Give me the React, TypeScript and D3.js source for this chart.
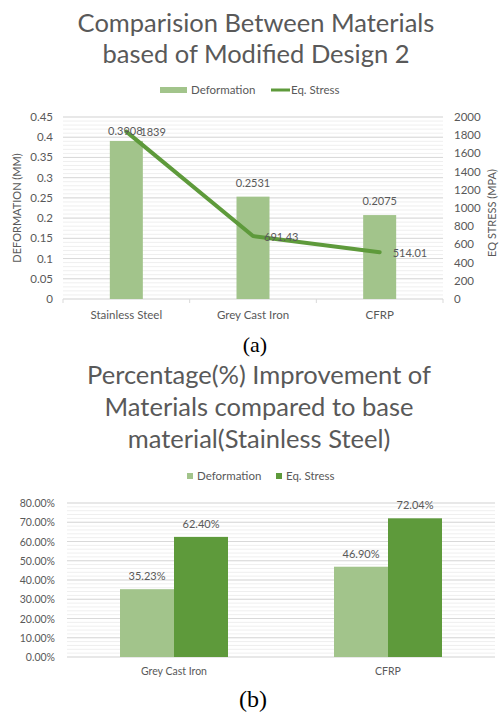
import React from "react";
import * as d3 from "d3";

const matsA = ["Stainless Steel", "Grey Cast Iron", "CFRP"];
const deformation = [0.3908, 0.2531, 0.2075];
const eqStress = [1839, 691.43, 514.01];
const stressLabels = ["1839", "691.43", "514.01"];
const defLabels = ["0.3908", "0.2531", "0.2075"];
const leftTicks = [0, 0.05, 0.1, 0.15, 0.2, 0.25, 0.3, 0.35, 0.4, 0.45];
const rightTicks = [0, 200, 400, 600, 800, 1000, 1200, 1400, 1600, 1800, 2000];

const matsB = ["Grey Cast Iron", "CFRP"];
const defImprove = [35.23, 46.9];
const stressImprove = [62.4, 72.04];
const pctTicks = [0, 10, 20, 30, 40, 50, 60, 70, 80];

const LIGHT = "#a2c48b";
const DARK = "#5e9a3b";
const TXT = "#595959";
const FONT = "Lato, 'Open Sans', sans-serif";
const SERIF = "'Liberation Serif', 'DejaVu Serif', serif";

export default function App() {
  // Chart A
  const xA = d3.scaleBand().domain(matsA).range([63, 443]);
  const yL = d3.scaleLinear().domain([0, 0.45]).range([299, 117]);
  const yR = d3.scaleLinear().domain([0, 2000]).range([299, 117]);
  const barWA = 33;
  const minorA = d3.range(0, 0.4501, 0.01);
  const cxA = (i: number) => xA(matsA[i])! + xA.bandwidth() / 2;
  const line = d3
    .line<number>()
    .x((_, i) => cxA(i))
    .y((d) => yR(d));
  const stressDx = [14, 11, 13];
  const stressDy = [4, 5, 5];

  // Chart B
  const xB = d3.scaleBand().domain(matsB).range([67, 495]);
  const yB = d3.scaleLinear().domain([0, 80]).range([657, 503]);
  const barWB = 54;
  const minorB = d3.range(0, 80.01, 2);

  return (
    <svg width={499} height={713} style={{ position: "absolute", left: 0, top: 0 }} fontFamily={FONT}>
      <rect width={499} height={713} fill="#fff" />
      {/* ---------- Chart A ---------- */}
      <text x={256} y={32} textAnchor="middle" fontSize={25.5} fill={TXT}>
        Comparision Between Materials
      </text>
      <text x={256} y={63} textAnchor="middle" fontSize={25.5} fill={TXT}>
        based of Modified Design 2
      </text>
      {/* legend */}
      <rect x={160} y={87} width={27} height={6} fill={LIGHT} />
      <text x={191} y={94} fontSize={11.5} fill={TXT}>Deformation</text>
      <line x1={271} x2={290} y1={90} y2={90} stroke={DARK} strokeWidth={3} />
      <text x={291} y={94} fontSize={11.5} fill={TXT}>Eq. Stress</text>

      {minorA.map((v, i) => (
        <line key={"ma" + i} x1={63} x2={443} y1={yL(v)} y2={yL(v)} stroke="#efefef" strokeWidth={1} />
      ))}
      {leftTicks.map((v) => (
        <line key={"ga" + v} x1={63} x2={443} y1={yL(v)} y2={yL(v)} stroke="#d9d9d9" strokeWidth={1} />
      ))}
      {leftTicks.map((v) => (
        <text key={"la" + v} x={53} y={yL(v) + 4} textAnchor="end" fontSize={11.5} fill={TXT}>
          {String(v)}
        </text>
      ))}
      {rightTicks.map((v) => (
        <text key={"ra" + v} x={454} y={yR(v) + 4} fontSize={11.5} fill={TXT}>
          {String(v)}
        </text>
      ))}
      <text transform={`translate(21,208) rotate(-90)`} textAnchor="middle" fontSize={11} fill={TXT}>
        DEFORMATION (MM)
      </text>
      <text transform={`translate(496,213) rotate(-90)`} textAnchor="middle" fontSize={11} fill={TXT}>
        EQ STRESS (MPA)
      </text>
      {/* axis ticks */}
      {[63, ...matsA.map((m) => xA(m)! + xA.bandwidth())].map((x, i) => (
        <line key={"tk" + i} x1={x} x2={x} y1={299} y2={303} stroke="#d9d9d9" />
      ))}
      {matsA.map((m, i) => (
        <rect
          key={"ba" + m}
          x={cxA(i) - barWA / 2}
          y={yL(deformation[i])}
          width={barWA}
          height={yL(0) - yL(deformation[i])}
          fill={LIGHT}
        />
      ))}
      <path d={line(eqStress)!} fill="none" stroke={DARK} strokeWidth={4} strokeLinejoin="round" strokeLinecap="round" />
      {matsA.map((m, i) => (
        <text key={"ca" + m} x={cxA(i)} y={319} textAnchor="middle" fontSize={11.5} fill={TXT}>
          {m}
        </text>
      ))}
      {/* data labels */}
      <text x={cxA(0) - 1} y={yL(deformation[0]) - 6} textAnchor="middle" fontSize={11} fill={TXT}>
        {defLabels[0]}
      </text>
      {[1, 2].map((i) => (
        <text key={"dl" + i} x={cxA(i)} y={yL(deformation[i]) - 10} textAnchor="middle" fontSize={11} fill={TXT}>
          {defLabels[i]}
        </text>
      ))}
      {stressLabels.map((s, i) => (
        <text key={"sl" + i} x={cxA(i) + stressDx[i]} y={yR(eqStress[i]) + stressDy[i]} fontSize={11} fill={TXT}>
          {s}
        </text>
      ))}
      <text x={255} y={352} textAnchor="middle" fontSize={22} fontFamily={SERIF} fill="#000">
        (a)
      </text>

      {/* ---------- Chart B ---------- */}
      <text x={259} y={384} textAnchor="middle" fontSize={25.5} fill={TXT}>
        Percentage(%) Improvement of
      </text>
      <text x={259} y={416} textAnchor="middle" fontSize={25.5} fill={TXT}>
        Materials compared to base
      </text>
      <text x={259} y={448} textAnchor="middle" fontSize={25.5} fill={TXT}>
        material(Stainless Steel)
      </text>
      <rect x={187} y={473} width={6} height={6} fill={LIGHT} />
      <text x={197} y={480} fontSize={11.5} fill={TXT}>Deformation</text>
      <rect x={276} y={473} width={6} height={6} fill={DARK} />
      <text x={286} y={480} fontSize={11.5} fill={TXT}>Eq. Stress</text>

      {minorB.map((v, i) => (
        <line key={"mb" + i} x1={67} x2={495} y1={yB(v)} y2={yB(v)} stroke="#efefef" />
      ))}
      {pctTicks.map((v) => (
        <line key={"gb" + v} x1={67} x2={495} y1={yB(v)} y2={yB(v)} stroke="#d9d9d9" />
      ))}
      {pctTicks.map((v) => (
        <text key={"lb" + v} x={55} y={yB(v) + 4} textAnchor="end" fontSize={10.5} fill={TXT}>
          {v.toFixed(2) + "%"}
        </text>
      ))}
      {matsB.map((m, i) => {
        const cx = xB(m)! + xB.bandwidth() / 2;
        return (
          <g key={"bb" + m}>
            <rect x={cx - barWB} y={yB(defImprove[i])} width={barWB} height={yB(0) - yB(defImprove[i])} fill={LIGHT} />
            <rect x={cx} y={yB(stressImprove[i])} width={barWB} height={yB(0) - yB(stressImprove[i])} fill={DARK} />
            <text x={cx - barWB / 2} y={yB(defImprove[i]) - 9} textAnchor="middle" fontSize={11} fill={TXT}>
              {defImprove[i].toFixed(2) + "%"}
            </text>
            <text x={cx + barWB / 2} y={yB(stressImprove[i]) - 9} textAnchor="middle" fontSize={11} fill={TXT}>
              {stressImprove[i].toFixed(2) + "%"}
            </text>
            <text x={cx} y={675} textAnchor="middle" fontSize={10.5} fill={TXT}>
              {m}
            </text>
          </g>
        );
      })}
      <text x={253} y={707} textAnchor="middle" fontSize={24} fontFamily={SERIF} fill="#000">
        (b)
      </text>
    </svg>
  );
}
